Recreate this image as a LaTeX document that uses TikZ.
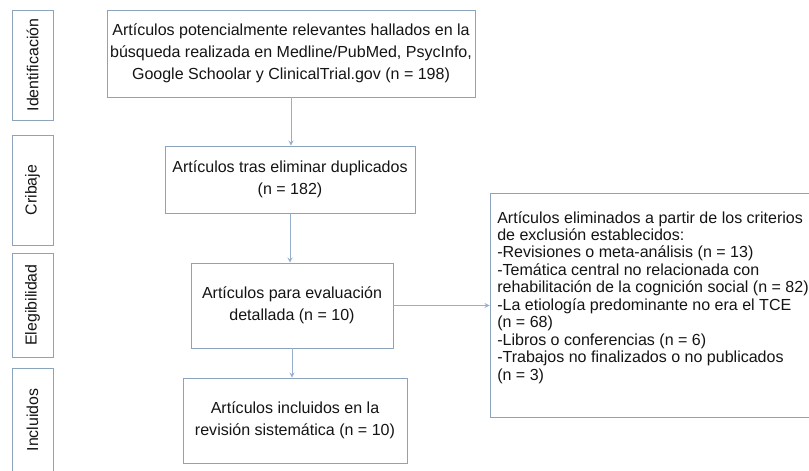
\documentclass[tikz,border=0pt]{standalone}
\usepackage{fontspec}
\setmainfont{Liberation Sans}
\usetikzlibrary{arrows,calc,shapes}
\definecolor{framecol}{RGB}{140,163,188}
\definecolor{linkcol}{RGB}{150,175,205}
\definecolor{inkcol}{RGB}{20,20,20}

\begin{document}
\begin{tikzpicture}[x=0.025cm,y=-0.025cm,
  stage/.style={draw=framecol,line width=0.6pt,rotate=90,minimum height=1.025cm,inner sep=0pt,text=inkcol,font=\fontsize{11.3}{13}\selectfont},
  flowbox/.style={draw=framecol,line width=0.6pt,align=center,inner sep=0pt,text=inkcol,font=\fontsize{11.4}{15.5}\selectfont},
  exlist/.style={align=left,inner sep=0pt,text=inkcol,font=\fontsize{11.4}{12.4}\selectfont},
  link/.style={draw=linkcol,line width=0.6pt,-stealth}]
\useasboundingbox (0,0) rectangle (809,470);
\clip (0,0) rectangle (809,470);

% etapas
\node[stage,minimum width=2.75cm] (ident) at (32.5,65) {Identificación};
\node[stage,minimum width=2.75cm] (crib) at (32.5,190) {Cribaje};
\node[stage,minimum width=2.6cm] (eleg) at (32.5,305) {Elegibilidad};
\node[stage,minimum width=2.6cm] (incl) at (32.5,420) {Incluidos};

% cajas del flujo
\node[flowbox,minimum width=9.2cm,minimum height=2.175cm] (search) at (291,53.5)
  {Artículos potencialmente relevantes hallados en la\\búsqueda realizada en Medline/PubMed, PsycInfo,\\Google Schoolar y ClinicalTrial.gov (n = 198)};
\node[flowbox,minimum width=6.25cm,minimum height=1.675cm] (dedup) at (290,179.5)
  {Artículos tras eliminar duplicados\\(n = 182)};
\node[flowbox,minimum width=5.05cm,minimum height=2.125cm] (detail) at (292,305.5)
  {Artículos para evaluación\\detallada (n = 10)};
\node[flowbox,minimum width=5.6cm,minimum height=2.125cm] (final) at (295,420.5)
  {Artículos incluidos en la\\revisión sistemática (n = 10)};

% excluidos
\node[draw=framecol,line width=0.6pt,minimum width=8.3cm,minimum height=5.6cm] (excl) at (656,305) {};
\node[exlist,anchor=north west] (excltxt) at (497,211)
  {Artículos eliminados a partir de los criterios\\
   de exclusión establecidos:\\
   -Revisiones o meta-análisis (n = 13)\\
   -Temática central no relacionada con\\
   rehabilitación de la cognición social (n = 82)\\
   -La etiología predominante no era el TCE\\
   (n = 68)\\
   -Libros o conferencias (n = 6)\\
   -Trabajos no finalizados o no publicados\\
   (n = 3)};

\draw[link] (search.south) -- (search.south |- dedup.north);
\draw[link] (dedup.south) -- (dedup.south |- detail.north);
\draw[link] (detail.south) -- (detail.south |- final.north);
\draw[link] (detail.east) -- (excl.west |- detail.east);

\end{tikzpicture}
\end{document}
